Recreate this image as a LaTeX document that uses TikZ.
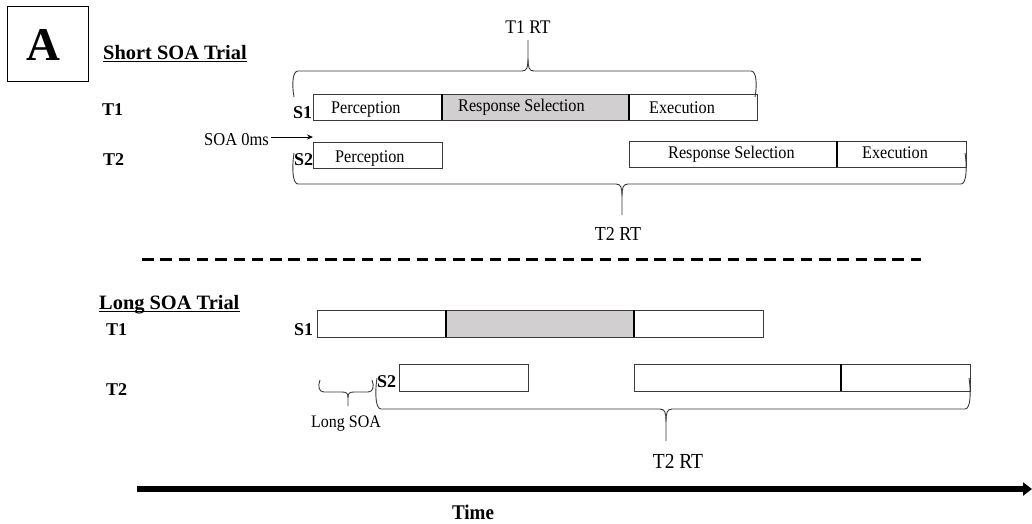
\documentclass[tikz,border=0pt]{standalone}
\usepackage{fontspec}
\usepackage{graphicx}
\setmainfont{Liberation Serif}
\usetikzlibrary{arrows.meta}
\definecolor{boxc}{HTML}{3A3A3A}
\definecolor{rsgray}{HTML}{D1CFD0}
\newcommand\tallt[1]{\scalebox{1}[1.1]{#1}}
\tikzset{
  box/.style={draw=boxc, line width=0.9pt, inner sep=0pt, outer sep=0pt, anchor=north west},
  divline/.style={draw=black, line width=1.4pt},
  lbl/.style={font=\fontsize{16.2}{18}\selectfont, inner sep=0pt, anchor=base west},
  tlab/.style={font=\bfseries\fontsize{18}{20}\selectfont, inner sep=0pt, anchor=base west},
  head/.style={font=\bfseries\fontsize{20.4}{22}\selectfont, inner sep=0pt, anchor=base west},
  rtlab/.style={inner sep=0pt, anchor=base},
  brc/.style={draw=boxc, line width=0.9pt},
}
\newcommand\rtbrace[6]{% xL xR yEnd yLine xM yTip
  \draw[brc] ({#1+1},{#3}) .. controls ({#1-1.5},{#3+0.55*(#4-#3)}) and ({#1},{#4}) .. ({#1+5},{#4}) -- ({#5-6},{#4}) .. controls ({#5-1},{#4}) and ({#5},{#4+0.12*(#6-#4)}) .. ({#5},{#4+0.4*(#6-#4)}) -- ({#5},{#6});
  \draw[brc] ({#2-1},{#3}) .. controls ({#2+1.5},{#3+0.55*(#4-#3)}) and ({#2},{#4}) .. ({#2-5},{#4}) -- ({#5+6},{#4}) .. controls ({#5+1},{#4}) and ({#5},{#4+0.12*(#6-#4)}) .. ({#5},{#4+0.4*(#6-#4)});
}
\begin{document}
\begin{tikzpicture}[x=1pt,y=-1pt]
\useasboundingbox (0,0) rectangle (1032,523);
% panel letter
\node[draw=black, line width=1pt, minimum width=81pt, minimum height=75pt, inner sep=0pt, anchor=north west] (abox) at (7,6) {};
\node[inner sep=0pt, anchor=base, font=\bfseries\fontsize{47}{49}\selectfont] (aletter) at (43.5,60) {A};
% headings
\node[head] (short) at (103,59) {Short SOA Trial};
\draw[line width=1.2pt] ([yshift=-2.5pt]short.base west) -- ([yshift=-2.5pt]short.base east);
\node[head] (long) at (99,309) {Long SOA Trial};
\draw[line width=1.2pt] ([yshift=-2.5pt]long.base west) -- ([yshift=-2.5pt]long.base east);
% task labels
\node[tlab] (t1s) at (102,115) {T1};
\node[tlab] (t2s) at (103,165) {T2};
\node[tlab] (t1l) at (106,335) {T1};
\node[tlab] (t2l) at (106,395) {T2};
\node[tlab] (s1s) at (293,118) {S1};
\node[tlab] (s2s) at (294,165) {S2};
\node[tlab] (s1l) at (294,335) {S1};
\node[tlab] (s2l) at (377,387) {S2};
% short SOA boxes
\node[box, minimum width=129pt, minimum height=26pt] (p1s) at (313,94) {};
\node[box, fill=rsgray, minimum width=187pt, minimum height=26pt] (rs1s) at (442,94) {};
\node[box, minimum width=128pt, minimum height=26pt] (ex1s) at (629,94) {};
\draw[divline] (rs1s.north west) -- (rs1s.south west);
\draw[divline] (ex1s.north west) -- (ex1s.south west);
\node[box, minimum width=129pt, minimum height=26pt] (p2s) at (313,142) {};
\node[box, minimum width=208pt, minimum height=26pt] (rs2s) at (629,141) {};
\node[box, minimum width=129pt, minimum height=26pt] (ex2s) at (837,141) {};
\draw[divline] (ex2s.north west) -- (ex2s.south west);
% short SOA labels
\node[lbl] (lp1s) at (331,113) {\tallt{Perception}};
\node[lbl] (lrs1s) at (458,111) {\tallt{Response Selection}};
\node[lbl] (lex1s) at (649,113) {\tallt{Execution}};
\node[lbl] (lp2s) at (335,162) {\tallt{Perception}};
\node[lbl] (lrs2s) at (668,158) {\tallt{Response Selection}};
\node[lbl] (lex2s) at (862,158) {\tallt{Execution}};
% SOA 0ms
\node[inner sep=0pt, anchor=base west, font=\fontsize{16.5}{18}\selectfont] (soa) at (204,145) {\tallt{SOA 0ms}};
\coordinate (soaend) at (313,137);
\draw[line width=0.8pt, -{Stealth[length=6pt,width=5pt]}] ([xshift=2pt]soa.east |- soaend) -- (soaend);
% braces short
\rtbrace{293}{756}{97}{71}{528}{40}
\node[rtlab, font=\fontsize{17.5}{19}\selectfont] (t1rt) at (528,33) {\tallt{T1 RT}};
\rtbrace{293}{966}{153}{184}{622}{215}
\node[rtlab, font=\fontsize{18}{20}\selectfont] (t2rts) at (618,240) {\tallt{T2 RT}};
% dashed separator
\coordinate (dashL) at (142,259);
\coordinate (dashR) at (921,259);
\draw[line width=3pt, dash pattern=on 11.5pt off 6.8pt] (dashL) -- (dashR);
% long SOA boxes
\node[box, minimum width=129pt, minimum height=27pt] (p1l) at (317,310) {};
\node[box, fill=rsgray, minimum width=188pt, minimum height=27pt] (rs1l) at (446,310) {};
\node[box, minimum width=129pt, minimum height=27pt] (ex1l) at (634,310) {};
\draw[divline] (rs1l.north west) -- (rs1l.south west);
\draw[divline] (ex1l.north west) -- (ex1l.south west);
\node[box, minimum width=129pt, minimum height=27pt] (p2l) at (399,364) {};
\node[box, minimum width=207pt, minimum height=27pt] (rs2l) at (634,364) {};
\node[box, minimum width=129pt, minimum height=27pt] (ex2l) at (841,364) {};
\draw[divline] (ex2l.north west) -- (ex2l.south west);
% braces long
\rtbrace{319}{373}{380}{392}{348}{406}
\node[rtlab, font=\fontsize{16}{18}\selectfont] (lsoa) at (346,427) {\tallt{Long SOA}};
\rtbrace{376}{970}{378}{409}{666}{441}
\node[rtlab, font=\fontsize{19.5}{21}\selectfont] (t2rtl) at (678,468) {\tallt{T2 RT}};
% time axis
\coordinate (tstart) at (137,489);
\coordinate (tend) at (1032,489);
\draw[line width=6pt, -{Triangle[length=9pt,width=13pt]}] (tstart) -- (tend);
\node[rtlab, font=\bfseries\fontsize{19}{21}\selectfont] (time) at (473,519) {\tallt{Time}};
\end{tikzpicture}
\end{document}
